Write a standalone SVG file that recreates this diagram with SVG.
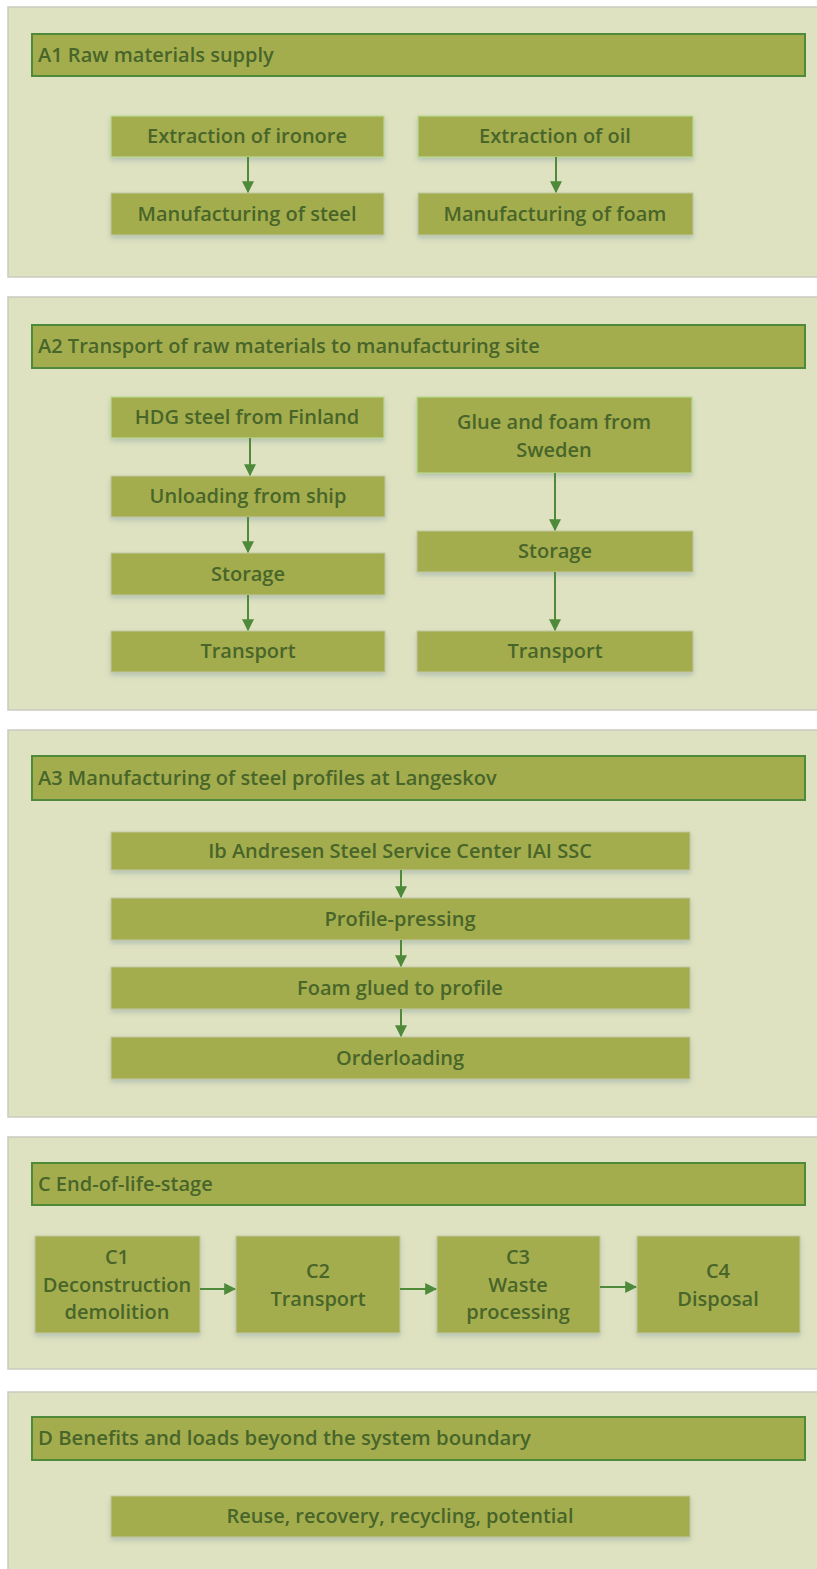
<svg xmlns="http://www.w3.org/2000/svg" width="817" height="1569" viewBox="0 0 817 1569">
<style>
.panel{fill:#dee2c0;stroke:#c9cbc0;stroke-width:1.5}
.hdr{fill:#a4ad4e;stroke:#4e8a3a;stroke-width:2}
.node{fill:#a4ad4e;stroke:#c2c7a0;stroke-width:1;filter:url(#sh)}
.node2{fill:#a4ad4e;stroke:#b9d98f;stroke-width:1.2;filter:url(#sh)}
.ht{font-family:"Open Sans","Liberation Sans",sans-serif;font-size:20px;font-weight:600;fill:#48652a}
.nt{font-family:"Open Sans","Liberation Sans",sans-serif;font-size:20px;font-weight:600;fill:#48652a;text-anchor:middle}
.ar{stroke:#4e8a3a;stroke-width:2;fill:none;marker-end:url(#ah)}
</style>
<defs>
<marker id="ah" viewBox="0 0 10 10" refX="9" refY="5" markerWidth="6" markerHeight="6.5" orient="auto" markerUnits="strokeWidth"><path d="M0,0 L10,5 L0,10 z" fill="#4e8a3a"/></marker>
<filter id="sh" x="-10%" y="-20%" width="120%" height="160%"><feDropShadow dx="0" dy="3" stdDeviation="2.5" flood-color="#6a8a9a" flood-opacity="0.35"/></filter>
</defs>
<rect width="817" height="1569" fill="#ffffff"/>

<g id="panel-a1">
<rect class="panel" x="8" y="7" width="820" height="270"/>
<rect class="hdr" x="32" y="34" width="773" height="42"/>
<text class="ht" x="38" y="62">A1 Raw materials supply</text>
</g>
<g id="a1-iron"><rect class="node2" x="111" y="116" width="273" height="41"/><text class="nt" x="247" y="143">Extraction of ironore</text></g>
<g id="a1-steel"><rect class="node" x="111" y="193" width="273" height="42"/><text class="nt" x="247" y="221">Manufacturing of steel</text></g>
<g id="a1-oil"><rect class="node2" x="418" y="116" width="275" height="41"/><text class="nt" x="555" y="143">Extraction of oil</text></g>
<g id="a1-foam"><rect class="node" x="418" y="193" width="275" height="42"/><text class="nt" x="555" y="221">Manufacturing of foam</text></g>

<g id="panel-a2">
<rect class="panel" x="8" y="297" width="820" height="413"/>
<rect class="hdr" x="32" y="325" width="773" height="43"/>
<text class="ht" x="38" y="353">A2 Transport of raw materials to manufacturing site</text>
</g>
<g id="a2-hdg"><rect class="node2" x="111" y="397" width="273" height="41"/><text class="nt" x="247" y="424">HDG steel from Finland</text></g>
<g id="a2-unload"><rect class="node" x="111" y="476" width="274" height="41"/><text class="nt" x="248" y="503">Unloading from ship</text></g>
<g id="a2-storage1"><rect class="node" x="111" y="553" width="274" height="42"/><text class="nt" x="248" y="581">Storage</text></g>
<g id="a2-transport1"><rect class="node" x="111" y="631" width="274" height="41"/><text class="nt" x="248" y="658">Transport</text></g>
<g id="a2-glue"><rect class="node2" x="417" y="397" width="275" height="76"/><text class="nt" x="554" y="429">Glue and foam from</text><text class="nt" x="554" y="457">Sweden</text></g>
<g id="a2-storage2"><rect class="node" x="417" y="531" width="276" height="41"/><text class="nt" x="555" y="558">Storage</text></g>
<g id="a2-transport2"><rect class="node" x="417" y="631" width="276" height="41"/><text class="nt" x="555" y="658">Transport</text></g>

<g id="panel-a3">
<rect class="panel" x="8" y="730" width="820" height="387"/>
<rect class="hdr" x="32" y="756" width="773" height="44"/>
<text class="ht" x="38" y="785">A3 Manufacturing of steel profiles at Langeskov</text>
</g>
<g id="a3-ib"><rect class="node" x="111" y="832" width="579" height="38"/><text class="nt" x="400" y="858">Ib Andresen Steel Service Center IAI SSC</text></g>
<g id="a3-press"><rect class="node" x="111" y="898" width="579" height="42"/><text class="nt" x="400" y="926">Profile-pressing</text></g>
<g id="a3-foam"><rect class="node" x="111" y="967" width="579" height="42"/><text class="nt" x="400" y="995">Foam glued to profile</text></g>
<g id="a3-order"><rect class="node" x="111" y="1037" width="579" height="42"/><text class="nt" x="400" y="1065">Orderloading</text></g>

<g id="panel-c">
<rect class="panel" x="8" y="1137" width="820" height="232"/>
<rect class="hdr" x="32" y="1163" width="773" height="42"/>
<text class="ht" x="38" y="1191">C End-of-life-stage</text>
</g>
<g id="c1"><rect class="node" x="35" y="1236" width="165" height="97"/><text class="nt" x="117" y="1264">C1</text><text class="nt" x="117" y="1292">Deconstruction</text><text class="nt" x="117" y="1319">demolition</text></g>
<g id="c2"><rect class="node" x="236" y="1236" width="164" height="97"/><text class="nt" x="318" y="1278">C2</text><text class="nt" x="318" y="1306">Transport</text></g>
<g id="c3"><rect class="node" x="437" y="1236" width="163" height="97"/><text class="nt" x="518" y="1264">C3</text><text class="nt" x="518" y="1292">Waste</text><text class="nt" x="518" y="1319">processing</text></g>
<g id="c4"><rect class="node" x="637" y="1236" width="163" height="97"/><text class="nt" x="718" y="1278">C4</text><text class="nt" x="718" y="1306">Disposal</text></g>

<g id="panel-d">
<rect class="panel" x="8" y="1392" width="820" height="190"/>
<rect class="hdr" x="32" y="1417" width="773" height="43"/>
<text class="ht" x="38" y="1445" textLength="493" lengthAdjust="spacingAndGlyphs">D Benefits and loads beyond the system boundary</text>
</g>
<g id="d-reuse"><rect class="node" x="111" y="1496" width="579" height="41"/><text class="nt" x="400" y="1523">Reuse, recovery, recycling, potential</text></g>

<g id="connectors">
<line class="ar" x1="248" y1="157" x2="248" y2="192"/>
<line class="ar" x1="556" y1="157" x2="556" y2="192"/>
<line class="ar" x1="250" y1="438" x2="250" y2="475"/>
<line class="ar" x1="248" y1="517" x2="248" y2="552"/>
<line class="ar" x1="248" y1="595" x2="248" y2="630"/>
<line class="ar" x1="555" y1="473" x2="555" y2="530"/>
<line class="ar" x1="555" y1="572" x2="555" y2="630"/>
<line class="ar" x1="401" y1="870" x2="401" y2="897"/>
<line class="ar" x1="401" y1="940" x2="401" y2="966"/>
<line class="ar" x1="401" y1="1009" x2="401" y2="1036"/>
<line class="ar" x1="200" y1="1289" x2="235" y2="1289"/>
<line class="ar" x1="400" y1="1289" x2="436" y2="1289"/>
<line class="ar" x1="600" y1="1287" x2="636" y2="1287"/>
</g>
</svg>
